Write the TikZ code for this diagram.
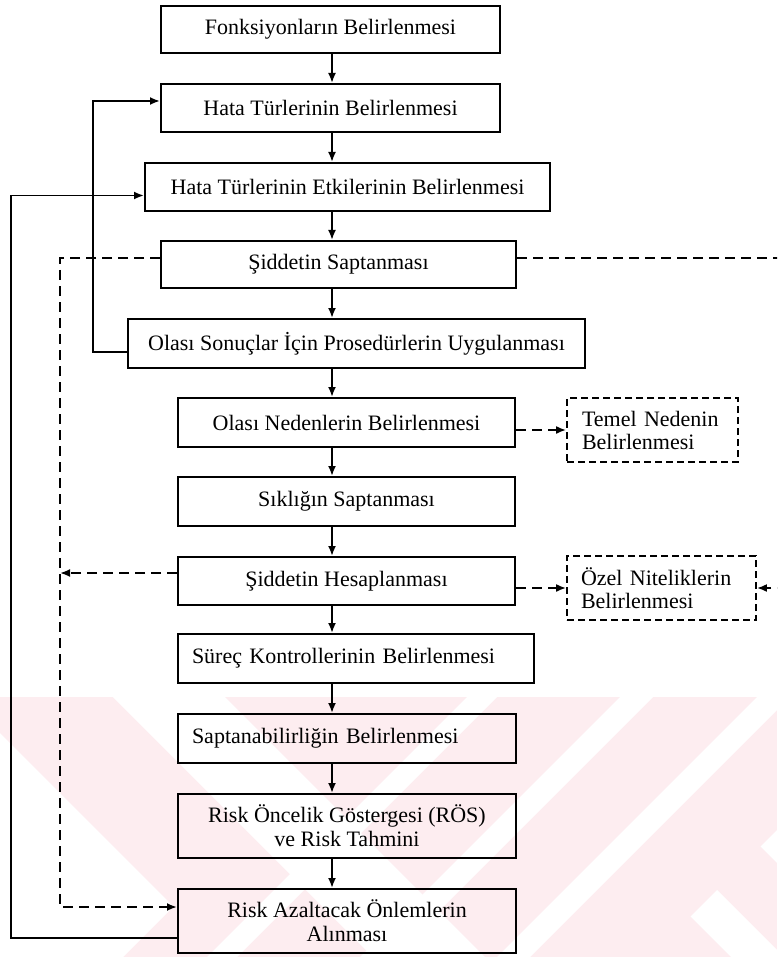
\documentclass[tikz,border=0pt]{standalone}
\usepackage{fontspec}
\setmainfont{Liberation Serif}
\usepackage{xcolor}
\usetikzlibrary{arrows.meta}
\definecolor{wmpink}{RGB}{253,237,240}

\begin{document}
\begin{tikzpicture}[x=1pt,y=-1pt,
    stepbox/.style={draw,line width=2pt,inner sep=0pt,align=center,
      font=\fontsize{22}{24}\selectfont},
    notebox/.style={draw,line width=1.8pt,dash pattern=on 7pt off 4pt,inner sep=0pt,
      align=left,minimum height=64pt,font=\fontsize{22}{23}\selectfont},
    flow/.style={line width=1.9pt,-{Latex[length=10pt,width=8pt]}},
    dflow/.style={flow,dash pattern=on 10pt off 6pt}]
    \useasboundingbox (0,0) rectangle (777,957);
    \clip (0,0) rectangle (777,957);
    \begin{scope}
        \clip (0,697) rectangle (777,957);
        \fill[wmpink] (0,697) rectangle (777,957);
        \fill[white] (113,697) -- (225,697) -- (485,957) -- (373,957) -- cycle;
        \fill[white] (0,733) -- (173.5,906.5) -- (123,957) -- (0,957) -- cycle;
        \fill[white] (467,697) -- (497,697) -- (237,957) -- (207,957) -- cycle;
        \fill[white] (620,697) -- (653,697) -- (393,957) -- (360,957) -- cycle;
        \fill[white] (757,697) -- (790,697) -- (530,957) -- (497,957) -- cycle;
        \fill[white] (690.5,916.5) -- (717,890) -- (784,957) -- (731,957) -- cycle;
        \fill[white] (760.5,846.5) -- (777,830) -- (904,957) -- (871,957) -- cycle;
    \end{scope}
    \node[stepbox,minimum width=339pt,minimum height=47pt] (fonk) at (330.5,29.5) {Fonksiyonların Belirlenmesi};
    \node[stepbox,minimum width=339pt,minimum height=48pt] (hata) at (330.5,108) {Hata Türlerinin Belirlenmesi};
    \node[stepbox,minimum width=405pt,minimum height=48pt] (etki) at (347.5,187) {Hata Türlerinin Etkilerinin Belirlenmesi};
    \node[stepbox,minimum width=355pt,minimum height=47pt] (siddet) at (338.5,264.5) {Şiddetin Saptanması};
    \node[stepbox,minimum width=457pt,minimum height=49pt] (olasi) at (356.5,343.5) {Olası Sonuçlar İçin Prosedürlerin Uygulanması};
    \node[stepbox,minimum width=337pt,minimum height=49pt] (neden) at (346.5,422.5) {Olası Nedenlerin Belirlenmesi};
    \node[stepbox,minimum width=337pt,minimum height=49pt] (siklik) at (346.5,501.5) {Sıklığın Saptanması};
    \node[stepbox,minimum width=337pt,minimum height=48pt] (hesap) at (346.5,581) {Şiddetin Hesaplanması};
    \node[stepbox,align=left,text width=328pt,inner xsep=14pt,minimum height=49pt] (surec) at (356,658.5) {Süreç Kontrollerinin Belirlenmesi};
    \node[stepbox,align=left,text width=310pt,inner xsep=14pt,minimum height=49pt] (saptan) at (347,738.5) {Saptanabilirliğin Belirlenmesi};
    \node[stepbox,minimum width=338pt,minimum height=64pt] (ros) at (347,826) {Risk Öncelik Göstergesi (RÖS)\\ve Risk Tahmini};
    \node[stepbox,minimum width=338pt,minimum height=64pt] (riskaz) at (347,921) {Risk Azaltacak Önlemlerin\\Alınması};
    \node[notebox,text width=141pt,inner xsep=15pt] (temel) at (652.5,430) {Temel Nedenin\\Belirlenmesi};
    \node[notebox,text width=161pt,inner xsep=14pt] (ozel) at (661.5,588) {Özel Niteliklerin\\Belirlenmesi};
    \coordinate (spine) at (332,0);
    \draw[flow] (fonk.south -| spine) -- (hata.north -| spine);
    \draw[flow] (hata.south -| spine) -- (etki.north -| spine);
    \draw[flow] (etki.south -| spine) -- (siddet.north -| spine);
    \draw[flow] (siddet.south -| spine) -- (olasi.north -| spine);
    \draw[flow] (olasi.south -| spine) -- (neden.north -| spine);
    \draw[flow] (neden.south -| spine) -- (siklik.north -| spine);
    \draw[flow] (siklik.south -| spine) -- (hesap.north -| spine);
    \draw[flow] (hesap.south -| spine) -- (surec.north -| spine);
    \draw[flow] (surec.south -| spine) -- (saptan.north -| spine);
    \draw[flow] (saptan.south -| spine) -- (ros.north -| spine);
    \draw[flow] (ros.south -| spine) -- (riskaz.north -| spine);
    \draw[flow] ([yshift=-8.5pt]olasi.west) -- ++(-34,0) |- ([yshift=7pt]hata.west);
    \draw[flow] ([yshift=-17pt]riskaz.west) -- ++(-166,0) |- ([yshift=-8.5pt]etki.west);
    \draw[dflow] ([yshift=6.5pt]siddet.west) -- ++(-100,0) |- ([yshift=14pt]riskaz.west);
    \draw[dflow] ([yshift=8pt]hesap.west) -- ++(-117,0);
    \draw[dflow] ([yshift=6.5pt]siddet.east) -- ++(290,0) |- (ozel.east);
    \draw[dflow] (neden.east |- temel.west) -- (temel.west);
    \draw[dflow] (hesap.east |- ozel.west) -- (ozel.west);
\end{tikzpicture}
\end{document}
